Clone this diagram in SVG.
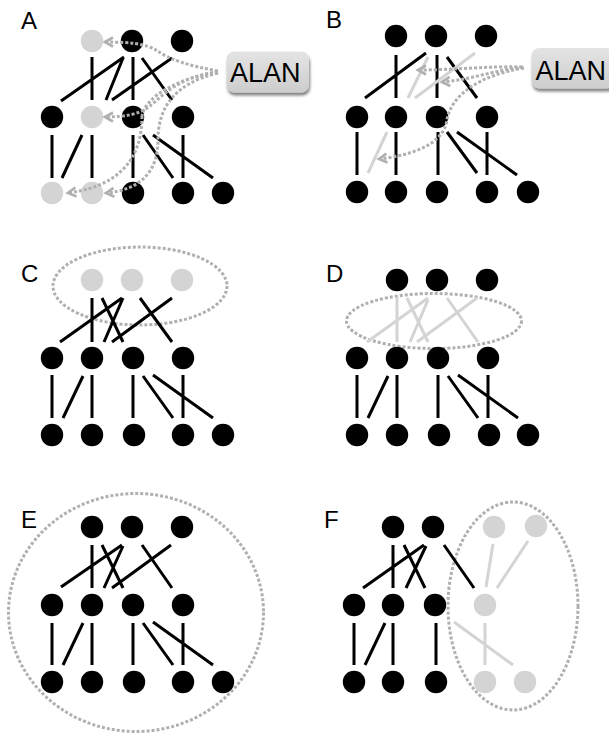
<svg xmlns="http://www.w3.org/2000/svg" width="609" height="733" viewBox="0 0 609 733">
<defs>
<style>
.lbl{font-family:"Liberation Sans",Arial,sans-serif;font-size:24px;fill:#000}
.alan{font-family:"Liberation Sans",Arial,sans-serif;font-size:27px;fill:#000}
.b{fill:#000}
.g{fill:#d4d4d4}
.e{stroke:#000;stroke-width:3;fill:none}
.eg{stroke:#d4d4d4;stroke-width:3;fill:none}
.dot{stroke:#b0b0b0;stroke-width:3;stroke-dasharray:3 2;fill:none}
.arr{stroke:#b0b0b0;stroke-width:3;stroke-dasharray:3 2;fill:none;marker-end:url(#chev)}
</style>
<marker id="chev" markerUnits="userSpaceOnUse" markerWidth="14" markerHeight="14" refX="0" refY="0" viewBox="-10 -7 12 14" orient="auto" overflow="visible">
<path d="M-8,-4.5 L0,0 L-8,4.5" fill="none" stroke="#b0b0b0" stroke-width="2.7"/>
</marker>
<linearGradient id="boxg" x1="0" y1="0" x2="0" y2="1">
<stop offset="0" stop-color="#e4e4e4"/>
<stop offset="1" stop-color="#cdcdcd"/>
</linearGradient>
<filter id="sh" x="-20%" y="-20%" width="140%" height="160%">
<feGaussianBlur in="SourceAlpha" stdDeviation="1.8"/>
<feOffset dx="1" dy="3" result="o"/>
<feComponentTransfer><feFuncA type="linear" slope="0.5"/></feComponentTransfer>
<feMerge><feMergeNode/><feMergeNode in="SourceGraphic"/></feMerge>
</filter>
</defs>
<rect width="609" height="733" fill="#fff"/>

<!-- panel labels -->
<text class="lbl" x="21" y="29">A</text>
<text class="lbl" x="326" y="28">B</text>
<text class="lbl" x="21" y="282">C</text>
<text class="lbl" x="326" y="282">D</text>
<text class="lbl" x="21" y="528">E</text>
<text class="lbl" x="324" y="528">F</text>

<!-- group outlines -->
<g id="outlines">
<ellipse class="dot" cx="140" cy="286" rx="87" ry="39"/>
<ellipse class="dot" cx="434" cy="321" rx="87.5" ry="27.5"/>
<ellipse class="dot" cx="136" cy="612.5" rx="127.5" ry="119"/>
<ellipse class="dot" cx="513" cy="606" rx="65" ry="104"/>
</g>

<g id="connectors">
<!-- A -->
<path class="e" d="M92,57V100 M124,57L61,101 M123,58L106,100 M133,57V100 M142,58L172,100 M172,58L112,100"/>
<path class="e" d="M52,135V178 M82,135L62,178 M92,135V178 M133,135V178 M143,135L173,178 M153,135L213,178 M183,135V178"/>
<!-- B -->
<path class="e" d="M396,55V98 M426,53L365,98 M437,55V98 M447,57L477,98"/>
<path class="eg" d="M428,57L408,98 M475,53L415,98 M387,132L368,173"/>
<path class="e" d="M357,132V175 M396,132V175 M438,132V175 M447,132L477,173 M457,132L517,175 M487,132V175"/>
<!-- C -->
<path class="e" d="M92,298V342 M122,298L60,342 M123,298L104,342 M102,298L123,342 M140,298L172,342 M172,298L112,342"/>
<path class="e" d="M52,375V418 M83,376L63,418 M92,375V418 M133,375V418 M143,376L173,418 M153,375L213,418 M183,375V418"/>
<!-- D -->
<path class="eg" d="M397,297V342 M428,298L367,342 M428,300L410,342 M407,298L428,342 M447,298L478,342 M477,298L417,342"/>
<path class="e" d="M357,375V418 M388,376L368,418 M397,375V418 M438,375V418 M448,376L478,418 M458,375L518,418 M488,375V418"/>
<!-- E -->
<path class="e" d="M92,545V588 M122,545L61,587 M123,546L104,588 M102,545L123,588 M142,545L172,588 M171,545L112,588"/>
<path class="e" d="M52,623V665 M83,623L63,665 M92,623V665 M133,623V665 M143,623L173,665 M153,622L213,665 M183,623V665"/>
<!-- F -->
<path class="e" d="M393,545V588 M424,545L363,588 M426,546L406,588 M404,545L425,588 M444,545L474,588"/>
<path class="eg" d="M493,544L486,587 M528,541L497,588"/>
<path class="e" d="M354,623V665 M385,623L365,665 M393,623V665 M436,623V665"/>
<path class="eg" d="M454,622L513,665 M485,623V665"/>
</g>

<!-- nodes A -->
<g id="A-t1"><circle class="g" cx="92" cy="41" r="11.2"/></g>
<g id="A-t2"><circle class="b" cx="132" cy="41" r="11.2"/></g>
<g id="A-t3"><circle class="b" cx="182" cy="41" r="11.2"/></g>
<g id="A-m1"><circle class="b" cx="52" cy="117" r="11.2"/></g>
<g id="A-m2"><circle class="g" cx="92" cy="117" r="11.2"/></g>
<g id="A-m3"><circle class="b" cx="133" cy="117" r="11.2"/></g>
<g id="A-m4"><circle class="b" cx="183" cy="117" r="11.2"/></g>
<g id="A-b1"><circle class="g" cx="52" cy="193" r="11.2"/></g>
<g id="A-b2"><circle class="g" cx="92" cy="193" r="11.2"/></g>
<g id="A-b3"><circle class="b" cx="133" cy="193" r="11.2"/></g>
<g id="A-b4"><circle class="b" cx="183" cy="193" r="11.2"/></g>
<g id="A-b5"><circle class="b" cx="223" cy="193" r="11.2"/></g>

<!-- nodes B -->
<g id="B-t1"><circle class="b" cx="396" cy="36" r="11.2"/></g>
<g id="B-t2"><circle class="b" cx="436" cy="36" r="11.2"/></g>
<g id="B-t3"><circle class="b" cx="486" cy="36" r="11.2"/></g>
<g id="B-m1"><circle class="b" cx="357" cy="117" r="11.2"/></g>
<g id="B-m2"><circle class="b" cx="396" cy="117" r="11.2"/></g>
<g id="B-m3"><circle class="b" cx="437" cy="117" r="11.2"/></g>
<g id="B-m4"><circle class="b" cx="487" cy="117" r="11.2"/></g>
<g id="B-b1"><circle class="b" cx="357" cy="192" r="11.2"/></g>
<g id="B-b2"><circle class="b" cx="396" cy="192" r="11.2"/></g>
<g id="B-b3"><circle class="b" cx="437" cy="192" r="11.2"/></g>
<g id="B-b4"><circle class="b" cx="487" cy="192" r="11.2"/></g>
<g id="B-b5"><circle class="b" cx="528" cy="192" r="11.2"/></g>

<!-- nodes C -->
<g id="C-t1"><circle class="g" cx="92" cy="280" r="11.2"/></g>
<g id="C-t2"><circle class="g" cx="132" cy="280" r="11.2"/></g>
<g id="C-t3"><circle class="g" cx="182" cy="280" r="11.2"/></g>
<g id="C-m1"><circle class="b" cx="52" cy="358" r="11.2"/></g>
<g id="C-m2"><circle class="b" cx="92" cy="358" r="11.2"/></g>
<g id="C-m3"><circle class="b" cx="133" cy="358" r="11.2"/></g>
<g id="C-m4"><circle class="b" cx="183" cy="358" r="11.2"/></g>
<g id="C-b1"><circle class="b" cx="52" cy="435" r="11.2"/></g>
<g id="C-b2"><circle class="b" cx="92" cy="435" r="11.2"/></g>
<g id="C-b3"><circle class="b" cx="134" cy="435" r="11.2"/></g>
<g id="C-b4"><circle class="b" cx="183" cy="435" r="11.2"/></g>
<g id="C-b5"><circle class="b" cx="223" cy="435" r="11.2"/></g>

<!-- nodes D -->
<g id="D-t1"><circle class="b" cx="397" cy="280" r="11.2"/></g>
<g id="D-t2"><circle class="b" cx="437" cy="280" r="11.2"/></g>
<g id="D-t3"><circle class="b" cx="487" cy="280" r="11.2"/></g>
<g id="D-m1"><circle class="b" cx="357" cy="358" r="11.2"/></g>
<g id="D-m2"><circle class="b" cx="397" cy="358" r="11.2"/></g>
<g id="D-m3"><circle class="b" cx="438" cy="358" r="11.2"/></g>
<g id="D-m4"><circle class="b" cx="488" cy="358" r="11.2"/></g>
<g id="D-b1"><circle class="b" cx="357" cy="435" r="11.2"/></g>
<g id="D-b2"><circle class="b" cx="397" cy="435" r="11.2"/></g>
<g id="D-b3"><circle class="b" cx="439" cy="435" r="11.2"/></g>
<g id="D-b4"><circle class="b" cx="489" cy="435" r="11.2"/></g>
<g id="D-b5"><circle class="b" cx="528" cy="435" r="11.2"/></g>

<!-- nodes E -->
<g id="E-t1"><circle class="b" cx="92" cy="527" r="11.2"/></g>
<g id="E-t2"><circle class="b" cx="132" cy="527" r="11.2"/></g>
<g id="E-t3"><circle class="b" cx="182" cy="527" r="11.2"/></g>
<g id="E-m1"><circle class="b" cx="52" cy="605" r="11.2"/></g>
<g id="E-m2"><circle class="b" cx="92" cy="605" r="11.2"/></g>
<g id="E-m3"><circle class="b" cx="133" cy="605" r="11.2"/></g>
<g id="E-m4"><circle class="b" cx="183" cy="605" r="11.2"/></g>
<g id="E-b1"><circle class="b" cx="52" cy="682" r="11.2"/></g>
<g id="E-b2"><circle class="b" cx="92" cy="682" r="11.2"/></g>
<g id="E-b3"><circle class="b" cx="134" cy="682" r="11.2"/></g>
<g id="E-b4"><circle class="b" cx="183" cy="682" r="11.2"/></g>
<g id="E-b5"><circle class="b" cx="223" cy="682" r="11.2"/></g>

<!-- nodes F -->
<g id="F-t1"><circle class="b" cx="393" cy="527" r="11.2"/></g>
<g id="F-t2"><circle class="b" cx="433" cy="527" r="11.2"/></g>
<g id="F-t3"><circle class="g" cx="494" cy="527" r="11.2"/></g>
<g id="F-t4"><circle class="g" cx="536" cy="526" r="11.2"/></g>
<g id="F-m1"><circle class="b" cx="354" cy="605" r="11.2"/></g>
<g id="F-m2"><circle class="b" cx="393" cy="605" r="11.2"/></g>
<g id="F-m3"><circle class="b" cx="435" cy="605" r="11.2"/></g>
<g id="F-m4"><circle class="g" cx="485" cy="605" r="11.2"/></g>
<g id="F-b1"><circle class="b" cx="354" cy="682" r="11.2"/></g>
<g id="F-b2"><circle class="b" cx="393" cy="682" r="11.2"/></g>
<g id="F-b3"><circle class="b" cx="436" cy="682" r="11.2"/></g>
<g id="F-b4"><circle class="g" cx="485" cy="682" r="11.2"/></g>
<g id="F-b5"><circle class="g" cx="525" cy="682" r="11.2"/></g>

<!-- ALAN arrows -->
<g id="alan-arrows">
<path class="arr" d="M218,71 C190,66 170,60 156,50 C146,44 130,42 105,42"/>
<path class="arr" d="M218,72 C180,76 162,96 150,106 C140,114 125,117 105,117"/>
<path class="dot" d="M218,72 C180,78 146,95 142,116"/>
<path class="arr" d="M142,116 C142,150 128,185 68,193"/>
<path class="arr" d="M218,73 C172,84 158,110 158,140 C158,172 140,190 106,193"/>
<path class="arr" d="M522,67 C490,66 450,70 418,70"/>
<path class="arr" d="M523,67 C495,70 470,80 442,82"/>
<path class="arr" d="M524,68 C480,75 451,95 447,120 C443,145 412,155 379,159"/>
</g>

<!-- ALAN boxes -->
<g id="alan-A">
<rect x="226.5" y="51.5" width="82.5" height="41" rx="8" fill="url(#boxg)" filter="url(#sh)"/>
<text class="alan" x="230" y="81.5">ALAN</text>
</g>
<g id="alan-B">
<rect x="531.5" y="48" width="82.5" height="40.5" rx="8" fill="url(#boxg)" filter="url(#sh)"/>
<text class="alan" x="535.5" y="79.5">ALAN</text>
</g>
</svg>
